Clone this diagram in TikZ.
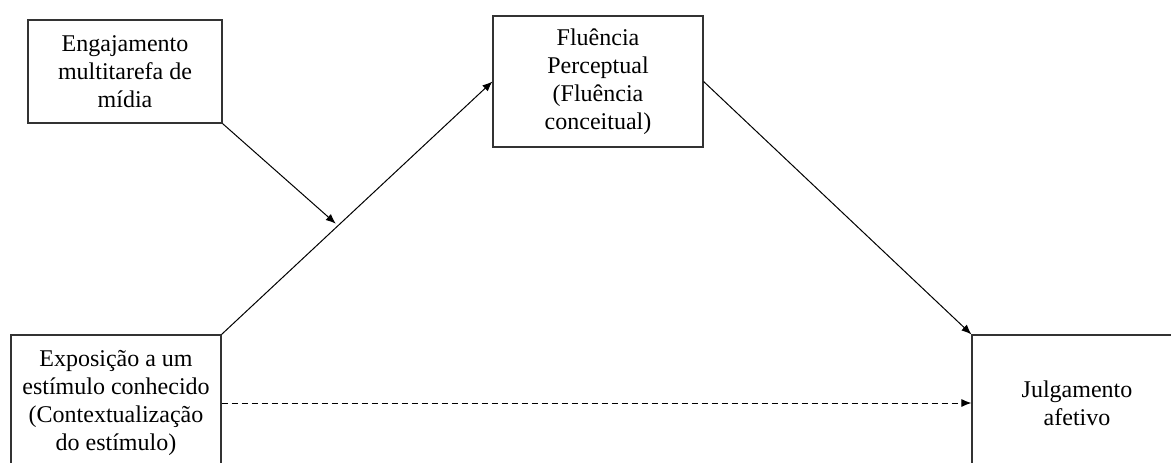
\documentclass[tikz,border=0pt]{standalone}
\usepackage{fontspec}
\setmainfont{Liberation Serif}
\usepackage{tikz}
\usetikzlibrary{positioning, calc, arrows.meta}

\begin{document}
\begin{tikzpicture}[
    x=0.5pt, y=-0.5pt,
    box/.style={
        rectangle, draw=black!80, line width=0.6pt,
        inner sep=0pt, align=center,
        font=\fontsize{12}{14}\selectfont
    },
    arrow/.style={-{Latex[length=5pt, width=4pt]}, line width=0.5pt},
    direct/.style={arrow, dashed, dash pattern=on 3pt off 2pt}
]
\useasboundingbox (0,0) rectangle (1171,462);

% 1. Moderator (top left)
\node[box, minimum width=97pt, minimum height=51.5pt] (engaj) at (125, 71.5) {
    Engajamento \\
    multitarefa de \\
    mídia
};

% 2. Mediator (top center)
\node[box, minimum width=105pt, minimum height=65.5pt] (fluencia) at (598, 81.5) {
    Fluência \\
    Perceptual \\
    (Fluência \\
    conceitual)
};

% 3. Predictor and outcome (bottom, cut by the page edge)
\node[box, minimum width=105pt, minimum height=68pt] (expo) at (116, 403) {
    Exposição a um \\
    estímulo conhecido \\
    (Contextualização \\
    do estímulo)
};

\node[box, minimum width=105pt, minimum height=68pt] (julg) at (1077, 403) {
    Julgamento \\
    afetivo
};

% 4. Paths
\draw[arrow] (expo.north east) -- coordinate[pos=0.43] (modpt) (fluencia.west);
\draw[arrow] (fluencia.east) -- (julg.north west);
\draw[arrow, shorten >=1.5pt] (engaj.south east) -- (modpt);
\draw[direct] (expo.east) -- (julg.west);

\end{tikzpicture}
\end{document}
